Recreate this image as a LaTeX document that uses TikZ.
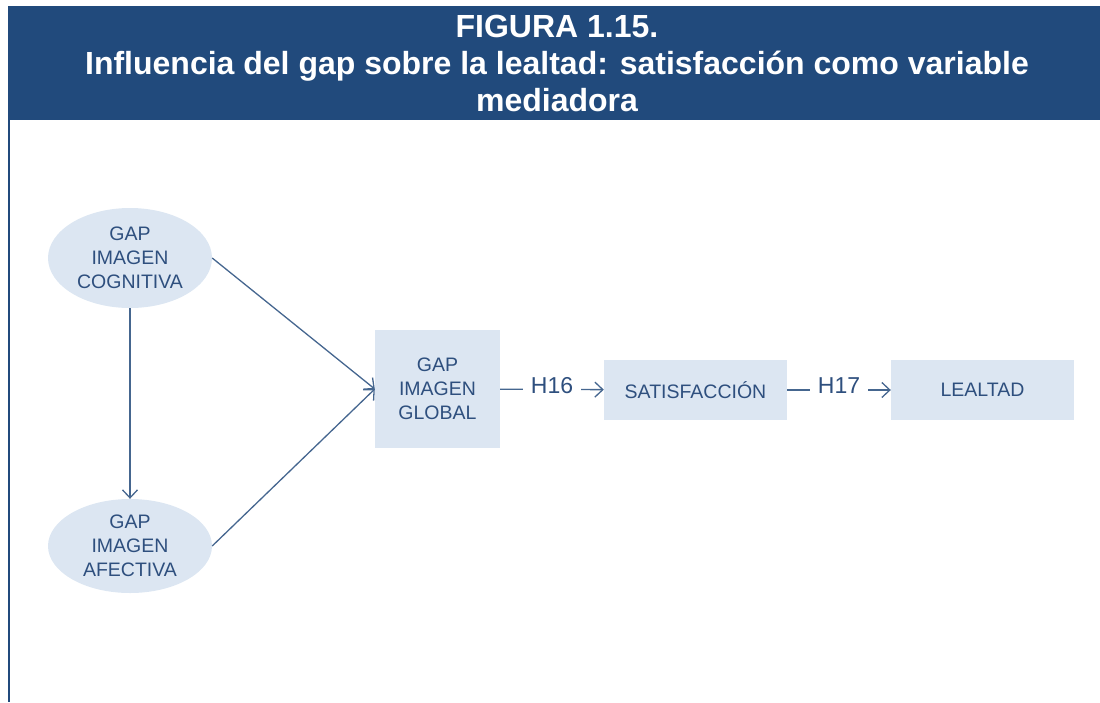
\documentclass[tikz,border=0pt]{standalone}
\usepackage{fontspec}
\setmainfont{Liberation Sans}
\usetikzlibrary{shapes.geometric,arrows.meta}
\definecolor{cabecera}{HTML}{214A7C}
\definecolor{fondo}{HTML}{DCE6F2}
\definecolor{tinta}{HTML}{2E4F7E}
\definecolor{azulflecha}{HTML}{45668F}
\tikzset{
  elipse/.style={ellipse,fill=fondo,text=tinta,minimum width=164pt,inner sep=0pt,
    align=center,font=\fontsize{19.5}{24}\selectfont},
  caja/.style={rectangle,fill=fondo,text=tinta,inner sep=0pt,align=center,
    font=\fontsize{19.5}{24}\selectfont},
  flecha/.style={draw=azulflecha,line width=1.3pt,-{Straight Barb[length=8pt,width=15pt]}},
  etiq/.style={fill=white,text=tinta,inner xsep=8pt,yshift=4pt,font=\fontsize{23}{27}\selectfont}
}
\begin{document}
\begin{tikzpicture}[x=1pt,y=-1pt]
\useasboundingbox(0,0) rectangle (1100,702);
\fill[cabecera](8,6) rectangle (1100,120);
\draw[cabecera,line width=2pt](9,120)--(9,702);
\node[text=white,font=\bfseries\fontsize{32}{37}\selectfont,align=center](titulo) at (557,63)
  {FIGURA 1.15.\\Influencia del gap sobre la lealtad: satisfacción como variable\\mediadora};
%
\node[elipse,minimum height=100pt](cognitiva) at (130,258){GAP\\IMAGEN\\COGNITIVA};
\node[elipse,minimum height=94pt](afectiva) at (130,546){GAP\\IMAGEN\\AFECTIVA};
\node[caja,minimum width=125pt,minimum height=118pt](global) at (437.5,389){GAP\\IMAGEN\\GLOBAL};
\node[caja,minimum width=183pt,minimum height=60pt](satisf) at (695.5,390){SATISFACCIÓN};
\node[caja,minimum width=183pt,minimum height=60pt](lealtad) at (982.5,390){LEALTAD};
%
\draw[flecha](cognitiva.east)--(global.west);
\draw[flecha](afectiva.east)--(global.west);
\draw[flecha](cognitiva.south)--(afectiva.north);
\draw[flecha](global)--node[etiq]{H16}(satisf);
\draw[flecha](satisf)--node[etiq]{H17}(lealtad);
\end{tikzpicture}
\end{document}
